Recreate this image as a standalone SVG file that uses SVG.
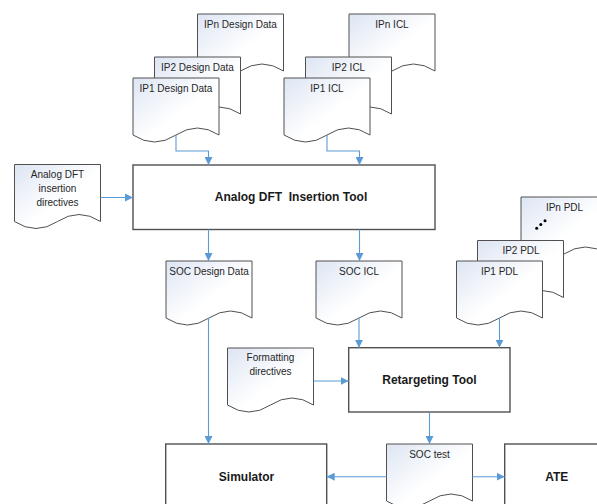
<svg xmlns="http://www.w3.org/2000/svg" width="597" height="504" viewBox="0 0 597 504">
<defs>
<linearGradient id="docfill" x1="0" y1="0" x2="1" y2="1">
<stop offset="0" stop-color="#dde5f3"/>
<stop offset="0.55" stop-color="#ffffff"/>
<stop offset="1" stop-color="#ffffff"/>
</linearGradient>
<marker id="arr" viewBox="0 0 10 10" refX="10" refY="5" markerWidth="8" markerHeight="8" markerUnits="userSpaceOnUse" orient="auto">
<path d="M0,0 L10,5 L0,10 Z" fill="#5b9bd5"/>
</marker>
<style>
.doc{fill:url(#docfill);stroke:#505050;stroke-width:1}
.box{fill:#ffffff;stroke:#505050;stroke-width:1.4}
.t{font-family:"Liberation Sans",Arial,sans-serif;font-size:10px;fill:#262626;text-anchor:middle}
.b{font-family:"Liberation Sans",Arial,sans-serif;font-size:12px;font-weight:bold;fill:#1a1a1a;text-anchor:middle;white-space:pre}
.c{fill:none;stroke:#5b9bd5;stroke-width:1.1;marker-end:url(#arr)}
</style>
</defs>
<rect width="597" height="504" fill="#ffffff"/>

<g id="ipn-design-data"><path class="doc" d="M197.5,14 H283.5 V71 Q262,57 240.5,71 T197.5,71 Z"/><text class="t" x="240.5" y="27.5">IPn Design Data</text></g>
<g id="ip2-design-data"><path class="doc" d="M154.5,57 H240.5 V114 Q219,100 197.5,114 T154.5,114 Z"/><text class="t" x="197.5" y="70.5">IP2 Design Data</text></g>
<g id="ip1-design-data"><path class="doc" d="M133,78 H219 V135 Q197.5,121 176,135 T133,135 Z"/><text class="t" x="176" y="91.5">IP1 Design Data</text></g>

<g id="ipn-icl"><path class="doc" d="M349,14 H435 V71 Q413.5,57 392,71 T349,71 Z"/><text class="t" x="392" y="27.5">IPn ICL</text></g>
<g id="ip2-icl"><path class="doc" d="M305.5,57 H391.5 V114 Q370,100 348.5,114 T305.5,114 Z"/><text class="t" x="348.5" y="70.5">IP2 ICL</text></g>
<g id="ip1-icl"><path class="doc" d="M284,78 H370 V135 Q348.5,121 327,135 T284,135 Z"/><text class="t" x="327" y="91.5">IP1 ICL</text></g>

<g id="analog-directives"><path class="doc" d="M14.5,164.5 H100.5 V221.5 Q79,207.5 57.5,221.5 T14.5,221.5 Z"/>
<text class="t" x="57.5" y="178">Analog DFT</text><text class="t" x="57.5" y="192">insertion</text><text class="t" x="57.5" y="206">directives</text></g>

<g id="analog-tool"><rect class="box" x="133" y="165" width="302" height="64.5"/><text class="b" x="291" y="201">Analog DFT  Insertion Tool</text></g>

<g id="soc-design-data"><path class="doc" d="M166,261 H252 V318 Q230.5,304 209,318 T166,318 Z"/><text class="t" x="209" y="274.5">SOC Design Data</text></g>
<g id="soc-icl"><path class="doc" d="M316,261 H402 V318 Q380.5,304 359,318 T316,318 Z"/><text class="t" x="359" y="274.5">SOC ICL</text></g>

<g id="ipn-pdl"><path class="doc" d="M521,197 H607 V254 Q585.5,240 564,254 T521,254 Z"/><text class="t" x="564.5" y="210.5">IPn PDL</text>
<circle cx="536.7" cy="228.3" r="1.5" fill="#000"/><circle cx="540.8" cy="224.5" r="1.5" fill="#000"/><circle cx="545" cy="220.7" r="1.5" fill="#000"/></g>
<g id="ip2-pdl"><path class="doc" d="M477.5,240.5 H563.5 V297.5 Q542,283.5 520.5,297.5 T477.5,297.5 Z"/><text class="t" x="521" y="253.5">IP2 PDL</text></g>
<g id="ip1-pdl"><path class="doc" d="M456.5,261 H542.5 V318 Q521,304 499.5,318 T456.5,318 Z"/><text class="t" x="499.5" y="275">IP1 PDL</text></g>

<g id="formatting-directives"><path class="doc" d="M227.5,348 H313.5 V405 Q292,391 270.5,405 T227.5,405 Z"/>
<text class="t" x="270.5" y="361">Formatting</text><text class="t" x="270.5" y="374.5">directives</text></g>

<g id="retargeting-tool"><rect class="box" x="348.7" y="347.7" width="161.3" height="64.3"/><text class="b" x="429.5" y="383.5">Retargeting Tool</text></g>

<g id="simulator"><rect class="box" x="165.7" y="444" width="161" height="80"/><text class="b" x="246.5" y="481">Simulator</text></g>
<g id="soc-test"><path class="doc" d="M386.5,444 H472.5 V501 Q451,487 429.5,501 T386.5,501 Z"/><text class="t" x="429.5" y="457.5">SOC test</text></g>
<g id="ate"><rect class="box" x="504.7" y="444" width="104" height="80"/><text class="b" x="556.7" y="481">ATE</text></g>

<g id="connectors">
<path class="c" d="M176,135 V151 H208.5 V165"/>
<path class="c" d="M327,135 V151 H359.5 V165"/>
<path class="c" d="M100.5,197.5 H133"/>
<path class="c" d="M208.5,229.5 V261"/>
<path class="c" d="M359.5,229.5 V261"/>
<path class="c" d="M359,318 V347.7"/>
<path class="c" d="M499.5,318 V347.7"/>
<path class="c" d="M313.5,381 H348.7"/>
<path class="c" d="M208.5,318 V444"/>
<path class="c" d="M429.5,412 V444"/>
<path class="c" d="M386.5,476.7 H326.7"/>
<path class="c" d="M472.5,476.7 H504.7"/>
</g>
</svg>
